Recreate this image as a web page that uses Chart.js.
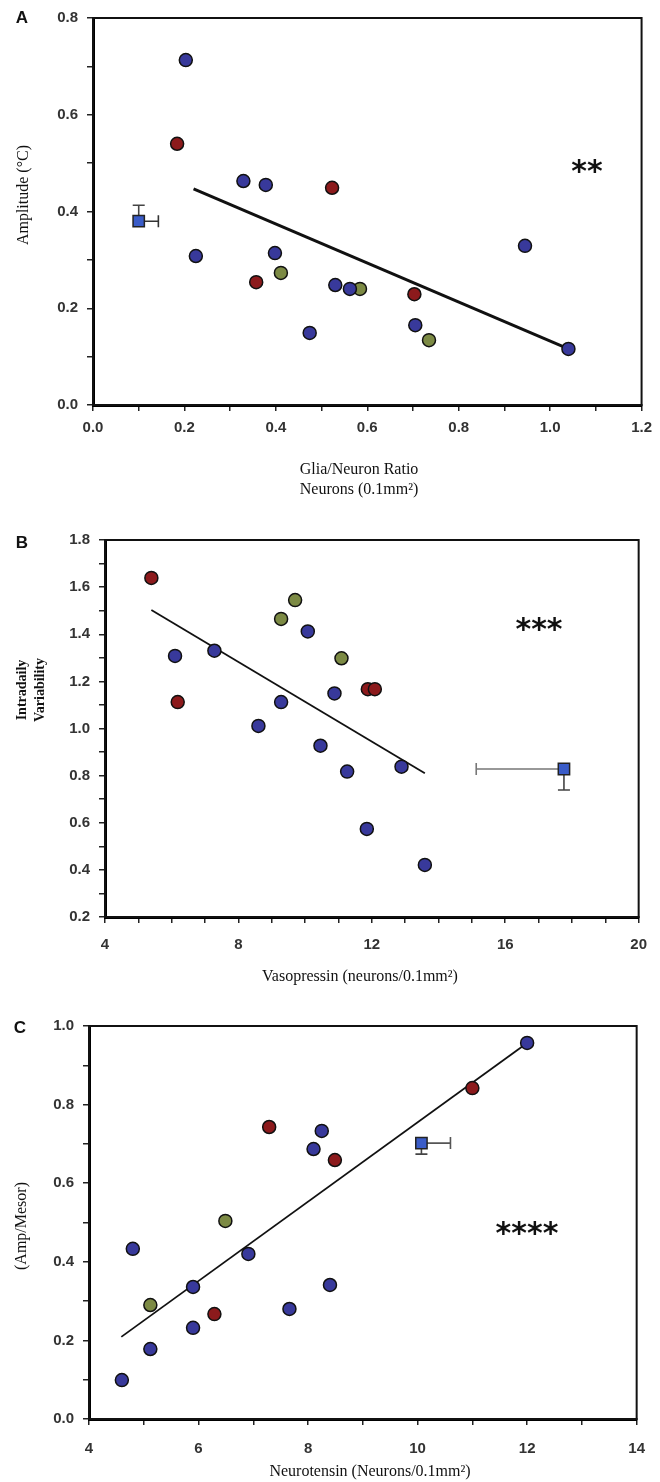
<!DOCTYPE html>
<html>
<head>
<meta charset="utf-8">
<script src="https://cdn.jsdelivr.net/npm/chart.js@4.4.0/dist/chart.umd.min.js"></script>
<style>
  html, body { margin: 0; padding: 0; background: #fff; }
  #wrap { position: relative; width: 660px; height: 1482px; }
  canvas { position: absolute; left: 0; }
</style>
</head>
<body>
<div id="wrap">
  <canvas id="chartA" width="660" height="500" style="top:0"></canvas>
  <canvas id="chartB" width="660" height="500" style="top:500px"></canvas>
  <canvas id="chartC" width="660" height="482" style="top:1000px"></canvas>
</div>
<script>
// ---- Panel A: glia/neuron ratio vs amplitude ----
const gliaRatio = [0.203, 0.184, 0.329, 0.378, 0.523, 0.225, 0.398, 0.411, 0.357, 0.474, 0.530, 0.562, 0.584, 0.703, 0.705, 0.735, 0.945, 1.040];
const amplitude = [0.713, 0.540, 0.463, 0.455, 0.449, 0.308, 0.314, 0.273, 0.254, 0.149, 0.248, 0.240, 0.240, 0.229, 0.165, 0.134, 0.329, 0.116];
const groupA    = ['b', 'r', 'b', 'b', 'r', 'b', 'b', 'g', 'r', 'b', 'b', 'b', 'g', 'r', 'b', 'g', 'b', 'b'];
const fitAX = [0.22, 1.04];
const fitAY = [0.447, 0.116];
const refA = [0.10, 0.38];        // mean x, mean y
const refErrA = [0.143, 0.413];   // error bar ends (x, y)

// ---- Panel B: vasopressin vs intradaily variability ----
const vasopressin = [5.39, 6.10, 6.18, 7.28, 9.28, 9.70, 10.08, 9.28, 8.60, 10.46, 10.88, 11.09, 11.88, 12.09, 11.26, 12.89, 11.85, 13.59];
const intradaily  = [1.639, 1.308, 1.112, 1.330, 1.465, 1.545, 1.412, 1.112, 1.011, 0.927, 1.149, 1.298, 1.167, 1.167, 0.817, 0.838, 0.574, 0.421];
const groupB      = ['r', 'b', 'r', 'b', 'g', 'g', 'b', 'b', 'b', 'b', 'b', 'g', 'r', 'r', 'b', 'b', 'b', 'b'];
const fitBX = [5.39, 13.59];
const fitBY = [1.503, 0.81];
const refB = [17.76, 0.828];
const refErrB = [15.13, 0.739];

// ---- Panel C: neurotensin vs amp/mesor ----
const neurotensin = [7.29, 8.25, 8.10, 8.49, 12.0, 11.0, 8.40, 4.80, 6.49, 6.91, 5.90, 5.12, 6.29, 5.90, 7.66, 5.12, 4.60];
const ampMesor    = [0.743, 0.733, 0.687, 0.659, 0.957, 0.842, 0.341, 0.433, 0.504, 0.420, 0.336, 0.290, 0.267, 0.232, 0.280, 0.178, 0.099];
const groupC      = ['r', 'b', 'b', 'r', 'b', 'r', 'b', 'b', 'g', 'b', 'b', 'g', 'r', 'b', 'b', 'b', 'b'];
const fitCX = [4.59, 12.0];
const fitCY = [0.209, 0.957];
const refC = [10.07, 0.702];
const refErrC = [10.6, 0.674];

const groupColors = { b: '#38399b', r: '#8c1a1c', g: '#7c8a44' };
const SANS = '"Liberation Sans", Arial, sans-serif';
const SERIF = '"Liberation Serif", "Times New Roman", serif';

function pointSets(xs, ys, groups) {
    return ['b', 'r', 'g'].map(key => ({
        data: xs.map((x, i) => ({ x: x, y: ys[i] })).filter((p, i) => groups[i] === key),
        backgroundColor: groupColors[key],
        borderColor: '#111',
        borderWidth: 1.5,
        pointRadius: 6.5,
        order: 1
    }));
}

function fitLine(xs, ys, width) {
    return {
        type: 'line',
        data: xs.map((x, i) => ({ x: x, y: ys[i] })),
        borderColor: '#111',
        borderWidth: width,
        pointRadius: 0,
        showLine: true,
        fill: false,
        order: 5
    };
}

function refPoint(ref) {
    return {
        data: [{ x: ref[0], y: ref[1] }],
        pointStyle: 'rect',
        pointRadius: 8,
        backgroundColor: '#3a5cc8',
        borderColor: '#222',
        borderWidth: 1.5,
        order: 0
    };
}

function axes(o) {
    const tickFont = { family: SANS, size: 15, weight: 'bold' };
    const grid = { drawOnChartArea: false, drawTicks: true, tickLength: 6, color: '#222', lineWidth: 1.5 };
    const border = { display: true, color: '#000', width: 3 };
    return {
        x: {
            type: 'linear', min: o.xMin, max: o.xMax,
            ticks: { stepSize: o.xStep, autoSkip: false, maxRotation: 0, color: '#333', font: tickFont,
                     padding: o.xPad, callback: o.xLabel },
            grid: grid, border: border,
            afterFit: s => { s.height = o.xHeight; }
        },
        y: {
            type: 'linear', min: o.yMin, max: o.yMax,
            ticks: { stepSize: o.yStep, autoSkip: false, color: '#333', font: tickFont,
                     padding: 9, callback: o.yLabel },
            grid: grid, border: border,
            afterFit: s => { s.width = o.yWidth; }
        }
    };
}

const evenTenth = v => (Math.round(v * 10) % 2 === 0 ? v.toFixed(1) : '');

// frame, error bars and all the text around each panel
const panelDecor = {
    id: 'panelDecor',
    beforeDatasetsDraw(chart, args, opts) {
        const ctx = chart.ctx, a = chart.chartArea;
        const sx = chart.scales.x, sy = chart.scales.y;
        ctx.save();
        ctx.strokeStyle = '#111';
        ctx.lineWidth = 2;
        ctx.strokeRect(a.left, a.top, a.right - a.left, a.bottom - a.top);

        const e = opts.err;
        const px = sx.getPixelForValue(e.ref[0]), py = sy.getPixelForValue(e.ref[1]);
        const ex = sx.getPixelForValue(e.ends[0]), ey = sy.getPixelForValue(e.ends[1]);
        ctx.lineWidth = 1.6;
        ctx.strokeStyle = e.xColor;
        ctx.beginPath();
        ctx.moveTo(px, py); ctx.lineTo(ex, py);
        ctx.moveTo(ex, py - 6); ctx.lineTo(ex, py + 6);
        ctx.stroke();
        ctx.strokeStyle = e.yColor;
        ctx.beginPath();
        ctx.moveTo(px, py); ctx.lineTo(px, ey);
        ctx.moveTo(px - 6, ey); ctx.lineTo(px + 6, ey);
        ctx.stroke();
        ctx.restore();
    },
    afterDraw(chart, args, opts) {
        const ctx = chart.ctx;
        ctx.save();
        ctx.fillStyle = '#111';
        opts.texts.forEach(t => {
            ctx.save();
            ctx.font = t.font;
            ctx.textAlign = 'center';
            ctx.textBaseline = t.baseline || 'middle';
            ctx.translate(t.x, t.y);
            if (t.rotate) ctx.rotate(-Math.PI / 2);
            ctx.fillText(t.text, 0, 0);
            ctx.restore();
        });
        ctx.restore();
    }
};

function makeChart(id, datasets, scales, padding, decor) {
    return new Chart(document.getElementById(id), {
        type: 'scatter',
        data: { datasets: datasets },
        options: {
            responsive: false,
            animation: false,
            layout: { padding: padding },
            scales: scales,
            plugins: { legend: { display: false }, tooltip: { enabled: false }, panelDecor: decor }
        },
        plugins: [panelDecor]
    });
}

const letterFont = 'bold 17px ' + SANS;
const titleFont = '16px ' + SERIF;
const starFont = 'bold 30px "DejaVu Sans", sans-serif';

makeChart('chartA',
    pointSets(gliaRatio, amplitude, groupA).concat([refPoint(refA), fitLine(fitAX, fitAY, 3)]),
    axes({ xMin: 0, xMax: 1.2, xStep: 0.1, xLabel: evenTenth, xPad: 8, xHeight: 95,
           yMin: 0, yMax: 0.8, yStep: 0.1, yLabel: evenTenth, yWidth: 93 }),
    { top: 18, right: 12, left: 0, bottom: 0 },
    {
        err: { ref: refA, ends: refErrA, xColor: '#333', yColor: '#444' },
        texts: [
            { text: 'A', x: 22, y: 18, font: letterFont },
            { text: 'Amplitude (°C)', x: 24, y: 195, font: titleFont, rotate: true },
            { text: 'Glia/Neuron Ratio', x: 359, y: 470, font: titleFont },
            { text: 'Neurons (0.1mm²)', x: 359, y: 490, font: titleFont },
            { text: '**', x: 587, y: 181, font: starFont, baseline: 'alphabetic' }
        ]
    });

makeChart('chartB',
    pointSets(vasopressin, intradaily, groupB).concat([refPoint(refB), fitLine(fitBX, fitBY, 1.8)]),
    axes({ xMin: 4, xMax: 20, xStep: 1, xLabel: v => (v % 4 === 0 ? String(v) : ''), xPad: 13, xHeight: 83,
           yMin: 0.2, yMax: 1.8, yStep: 0.1, yLabel: evenTenth, yWidth: 105 }),
    { top: 40, right: 13, left: 0, bottom: 0 },
    {
        err: { ref: refB, ends: refErrB, xColor: '#777', yColor: '#444' },
        texts: [
            { text: 'B', x: 22, y: 43, font: letterFont },
            { text: 'Intradaily', x: 22, y: 190, font: 'bold 14px ' + SERIF, rotate: true },
            { text: 'Variability', x: 40, y: 190, font: 'bold 14px ' + SERIF, rotate: true },
            { text: 'Vasopressin (neurons/0.1mm²)', x: 360, y: 477, font: titleFont },
            { text: '***', x: 539, y: 139, font: starFont, baseline: 'alphabetic' }
        ]
    });

makeChart('chartC',
    pointSets(neurotensin, ampMesor, groupC).concat([refPoint(refC), fitLine(fitCX, fitCY, 1.8)]),
    axes({ xMin: 4, xMax: 14, xStep: 1, xLabel: v => (v % 2 === 0 ? String(v) : ''), xPad: 15, xHeight: 63,
           yMin: 0, yMax: 1.0, yStep: 0.1, yLabel: evenTenth, yWidth: 89 }),
    { top: 26, right: 8, left: 0, bottom: 0 },
    {
        err: { ref: refC, ends: refErrC, xColor: '#555', yColor: '#444' },
        texts: [
            { text: 'C', x: 20, y: 28, font: letterFont },
            { text: '(Amp/Mesor)', x: 22, y: 226, font: titleFont, rotate: true },
            { text: 'Neurotensin (Neurons/0.1mm²)', x: 370, y: 472, font: titleFont },
            { text: '****', x: 527, y: 243, font: starFont, baseline: 'alphabetic' }
        ]
    });
</script>
</body>
</html>
